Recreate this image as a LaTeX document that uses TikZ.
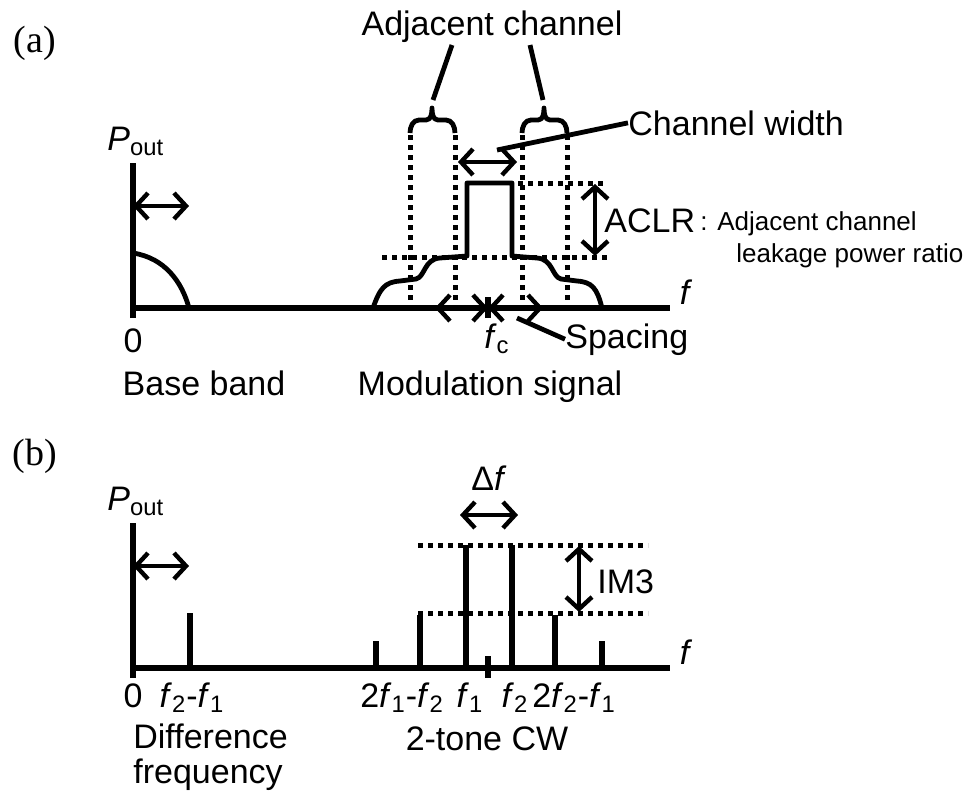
\documentclass[tikz,border=0pt]{standalone}
\usepackage{fontspec}
\setmainfont{Liberation Sans}
\newfontfamily\panelfont{Liberation Serif}
\usetikzlibrary{arrows.meta}

\newcommand{\fsub}[1]{\textit{f}\textsubscript{#1}}

\tikzset{
  axis/.style={line width=3pt},
  curve/.style={line width=2.4pt, line join=round},
  spike/.style={line width=2.6pt},
  dotline/.style={line width=2.5pt, dash pattern=on 2.5pt off 2.5pt},
  dbl/.style={line width=2.2pt,
    {Straight Barb[length=6pt,width=13pt]}-{Straight Barb[length=6pt,width=13pt]}},
  leader/.style={line width=2.4pt},
  brace/.style={line width=2.4pt, line join=round},
  lbl/.style={inner sep=0pt, font=\fontsize{17}{20}\selectfont},
  small/.style={inner sep=0pt, font=\fontsize{13}{16}\selectfont},
  panel/.style={inner sep=0pt, font=\panelfont\fontsize{19}{22}\selectfont},
}

\begin{document}
\begin{tikzpicture}[x=0.5pt,y=-0.5pt]
 \useasboundingbox (0,0) rectangle (976,800);

 % (a) base band and modulation signal
 \begin{scope}
  \node[panel,anchor=base] (pa) at (35,52) {(a)};
  \coordinate (Ytop) at (133,163);
  \coordinate (Ybot) at (133,318);
  \coordinate (Xbeg) at (131,308);
  \coordinate (Xend) at (670,308);
  \draw[axis] (Ybot)--(Ytop);
  \draw[axis] (Xbeg)--(Xend);
  \node[lbl,anchor=base west] (pouta) at (107,150) {\textit{P}\textsubscript{out}};
  \node[lbl,anchor=base] (fa) at (686,304) {\textit{f}};
  \node[lbl,anchor=base] (zeroa) at (133,352) {0};
  \node[lbl,anchor=base] (bb) at (204,395) {Base band};
  \node[lbl,anchor=base] (ms) at (490,395) {Modulation signal};

  % base band
  \coordinate (bbL) at (133,206);
  \coordinate (bbR) at (189,206);
  \draw[dbl] (bbL)--(bbR);
  \draw[curve] (133,253) .. controls (165,258) and (182,282) .. (189,308);

  % modulated spectrum
  \draw[curve] (373,308) .. controls (380,288) and (385,282) .. (400,281)
        -- (416,279) .. controls (425,277) and (424,259) .. (440,258)
        -- (467,256) -- (467,183) -- (512,183) -- (512,256)
        -- (537,258) .. controls (553,259) and (552,277) .. (561,279)
        -- (577,281) .. controls (592,282) and (597,288) .. (602,308);

  % channel borders
  \foreach \x in {410,455,522,567}
    \draw[dotline] (\x,135)--(\x,304);
  \draw[dotline] (518,183)--(603,183);
  \draw[dotline] (382,257)--(608,257);

  % braces
  \draw[brace] (410,133) to[out=90,in=180] (419,120) -- (426,120)
        to[out=0,in=-90] (432,108) to[out=-90,in=180] (438,120)
        -- (446,120) to[out=0,in=90] (455,133);
  \draw[brace] (522,133) to[out=90,in=180] (531,120) -- (538,120)
        to[out=0,in=-90] (544,108) to[out=-90,in=180] (550,120)
        -- (558,120) to[out=0,in=90] (567,133);
  \node[lbl,anchor=base] (adj) at (492,35) {Adjacent channel};
  \coordinate (adjL) at (452,45);
  \coordinate (adjR) at (530,45);
  \coordinate (braceL) at (433,100);
  \coordinate (braceR) at (543,100);
  \draw[leader] (braceL)--(adjL);
  \draw[leader] (braceR)--(adjR);

  % channel width
  \coordinate (cwL) at (458,162);
  \coordinate (cwR) at (517,162);
  \draw[dbl] (cwL)--(cwR);
  \node[lbl,anchor=base west] (cw) at (628,135) {Channel width};
  \coordinate (cwtip) at (497,150);
  \draw[leader] (cwtip)--(cw.west);

  % ACLR
  \coordinate (aclrT) at (595,184);
  \coordinate (aclrB) at (595,256);
  \draw[dbl] (aclrT)--(aclrB);
  \node[lbl,anchor=base west] (aclr) at (604,232) {ACLR};
  \node[small,anchor=base west] (aclr1) at (700,230) {: Adjacent channel};
  \node[small,anchor=base west] (aclr2) at (736,262) {leakage power ratio};

  % spacing
  \coordinate (fc) at (488,308);
  \coordinate (spL) at (435,308);
  \coordinate (spR) at (543,308);
  \draw[dbl] (spL)--(fc);
  \draw[dbl] (fc)--(spR);
  \draw[axis] (488,297)--(488,318);
  \node[lbl,anchor=base] (fclbl) at (497,348) {\fsub{c}};
  \node[lbl,anchor=base west] (sp) at (565,348) {Spacing};
  \coordinate (sptip) at (517,318);
  \draw[leader] (sptip)--(sp.west);
 \end{scope}

 % (b) two-tone
 \begin{scope}
  \node[panel,anchor=base] (pb) at (35,465) {(b)};
  \coordinate (Ytop) at (133,523);
  \coordinate (Ybot) at (133,678);
  \coordinate (Xbeg) at (131,668);
  \coordinate (Xend) at (670,668);
  \draw[axis] (Ybot)--(Ytop);
  \draw[axis] (Xbeg)--(Xend);
  \node[lbl,anchor=base west] (poutb) at (107,510) {\textit{P}\textsubscript{out}};
  \node[lbl,anchor=base] (fb) at (686,664) {\textit{f}};

  \coordinate (dfL) at (133,566);
  \coordinate (dfR) at (189,566);
  \draw[dbl] (dfL)--(dfR);
  \draw[spike] (190,613)--(190,668);

  % tones and products
  \foreach \x/\y in {376/641,420/615,466/545,512/545,555/615,602/641}
    \draw[spike] (\x,\y)--(\x,668);
  \draw[axis] (488,656)--(488,678);
  \draw[dotline] (418,545)--(648,545);
  \draw[dotline] (418,613)--(648,613);

  \coordinate (imT) at (579,546);
  \coordinate (imB) at (579,612);
  \draw[dbl] (imT)--(imB);
  \node[lbl,anchor=base west] (im3) at (597,593) {IM3};

  \coordinate (dL) at (460,515);
  \coordinate (dR) at (518,515);
  \draw[dbl] (dL)--(dR);
  \node[lbl,anchor=base] (delta) at (489,490) {Δ\textit{f}};

  \node[lbl,anchor=base] (zerob) at (133,707) {0};
  \node[lbl,anchor=base] (f21) at (192,707) {\fsub{2}-\fsub{1}};
  \node[lbl,anchor=base] (im3L) at (402,707) {2\fsub{1}-\fsub{2}};
  \node[lbl,anchor=base] (f1) at (470,707) {\fsub{1}};
  \node[lbl,anchor=base] (f2) at (515,707) {\fsub{2}};
  \node[lbl,anchor=base] (im3R) at (574,707) {2\fsub{2}-\fsub{1}};
  \node[lbl,anchor=base west] (diff1) at (133,748) {Difference};
  \node[lbl,anchor=base west] (diff2) at (133,783) {frequency};
  \node[lbl,anchor=base] (tone) at (487,750) {2-tone CW};
 \end{scope}
\end{tikzpicture}
\end{document}
